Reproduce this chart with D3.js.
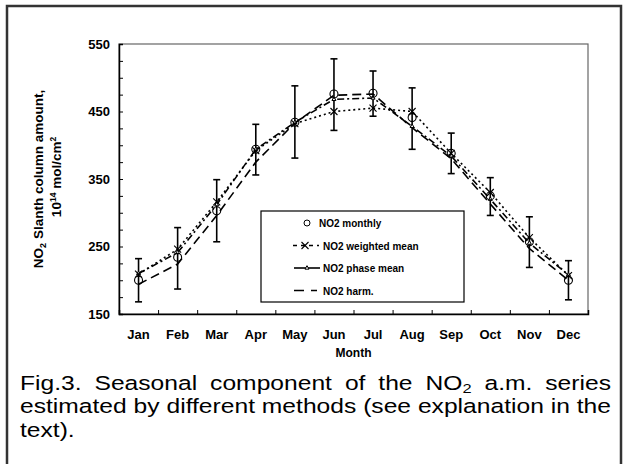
<!DOCTYPE html>
<html>
<head>
<meta charset="utf-8">
<script src="https://cdn.jsdelivr.net/npm/d3@7"></script>
<style>
  body { margin: 0; background: #fff; }
  text { font-family: "Liberation Sans", Arial, sans-serif; }
</style>
</head>
<body>
<div id="chart-area"></div>
<script>
// data
const months = ["Jan", "Feb", "Mar", "Apr", "May", "Jun", "Jul", "Aug", "Sep", "Oct", "Nov", "Dec"];
const monthly = [200, 234, 303, 394, 434, 476, 477, 441, 388, 325, 257, 200];
const errHigh = [232, 278, 349, 431, 488, 528, 510, 485, 418, 352, 294, 229];
const errLow = [168, 187, 257, 356, 381, 422, 443, 394, 358, 296, 219, 171];
const weighted = [209, 246, 316, 392, 432, 450, 455, 450, 388, 330, 263, 207];
const phase = [210, 241, 312, 394, 434, 468, 470, 428, 384, 320, 255, 208];
const harm = [194, 224, 296, 375, 433, 474, 476, 426, 380, 313, 247, 200];
const yTicks = [150, 250, 350, 450, 550];
const legendLabels = ["NO2 monthly", "NO2 weighted mean", "NO2 phase mean", "NO2 harm."];

let W = 628, H = 464;
let margin = {left: 119, right: 40, top: 44, bottom: 150};
let width = W - margin.left - margin.right;   // 469
let height = H - margin.top - margin.bottom;  // 270

let svg = d3.select("#chart-area")
            .append("svg")
            .attr("width", W)
            .attr("height", H);

// outer frame
svg.append("rect")
    .attr("x", 7).attr("y", 6)
    .attr("width", 614).attr("height", 470)
    .attr("fill", "none")
    .attr("stroke", "#333")
    .attr("stroke-width", 2.5);

let g = svg.append("g")
            .attr("transform", "translate(" + margin.left + "," + margin.top + ")");

let x = d3.scaleBand()
        .domain(months)
        .range([0, width]);
let xc = d => x(d) + x.bandwidth() / 2;
let xb = d3.scaleLinear().domain([0, 12]).range([0, width]);

let y = d3.scaleLinear()
        .domain([150, 550])
        .range([height, 0]);

// plot box
g.append("rect")
    .attr("width", width).attr("height", height)
    .attr("fill", "none")
    .attr("stroke", "#666")
    .attr("stroke-width", 1.2);

// y axis
let yAxis = d3.axisLeft(y)
            .tickValues(d3.range(150, 551, 25))
            .tickSize(-4)
            .tickPadding(9)
            .tickFormat(d => yTicks.includes(d) ? d : "");
let ya = g.append("g").attr("class", "y axis").call(yAxis);
ya.select(".domain").attr("stroke-width", 1.5);
ya.selectAll("text").attr("font-size", "13px").attr("font-weight", "bold").attr("fill", "#000");

// x axis: ticks at month boundaries, labels at centres
let xTickAxis = d3.axisBottom(xb).tickValues(d3.range(1, 12)).tickSize(-4).tickFormat("");
let xa = g.append("g").attr("transform", "translate(0," + height + ")").call(xTickAxis);
xa.select(".domain").attr("stroke-width", 1.5);

let xLab = g.append("g").attr("transform", "translate(0," + height + ")")
            .call(d3.axisBottom(x).tickSize(0).tickPadding(16));
xLab.select(".domain").remove();
xLab.selectAll("text").attr("font-size", "13px").attr("font-weight", "bold").attr("fill", "#000");

// x label
g.append("text")
    .text("Month")
    .attr("x", width / 2)
    .attr("y", height + 43)
    .attr("text-anchor", "middle")
    .attr("font-size", "12px")
    .attr("font-weight", "bold");

// y label (two lines)
let yl = svg.append("text")
    .attr("transform", "translate(43,179) rotate(-90)")
    .attr("text-anchor", "middle")
    .attr("font-size", "13.5px")
    .attr("font-weight", "bold");
yl.append("tspan").text("NO");
yl.append("tspan").text("2").attr("font-size", "9px").attr("dy", 3);
yl.append("tspan").text(" Slanth column amount,").attr("dy", -3);

let yl2 = svg.append("text")
    .attr("transform", "translate(61,177) rotate(-90)")
    .attr("text-anchor", "middle")
    .attr("font-size", "13.5px")
    .attr("font-weight", "bold");
yl2.append("tspan").text("10");
yl2.append("tspan").text("14").attr("font-size", "8.5px").attr("dy", -5);
yl2.append("tspan").text(" mol/cm").attr("dy", 5);
yl2.append("tspan").text("2").attr("font-size", "8.5px").attr("dy", -5);

// lines
let mkLine = vals => d3.line()
    .x((d, i) => xc(months[i]))
    .y(d => y(d))(vals);

g.append("path").attr("d", mkLine(harm))
    .attr("fill", "none").attr("stroke", "#000").attr("stroke-width", 1.6)
    .attr("stroke-dasharray", "9,5");
g.append("path").attr("d", mkLine(phase))
    .attr("fill", "none").attr("stroke", "#000").attr("stroke-width", 1.6)
    .attr("stroke-dasharray", "7,3,2,3");
g.append("path").attr("d", mkLine(weighted))
    .attr("fill", "none").attr("stroke", "#000").attr("stroke-width", 1.6)
    .attr("stroke-dasharray", "2,3");

// error bars
let eb = g.selectAll(".err").data(months).enter().append("g").attr("class", "err");
eb.append("line")
    .attr("x1", d => xc(d)).attr("x2", d => xc(d))
    .attr("y1", (d, i) => y(errHigh[i])).attr("y2", (d, i) => y(errLow[i]))
    .attr("stroke", "#000").attr("stroke-width", 1.6);
eb.append("line")
    .attr("x1", d => xc(d) - 3.5).attr("x2", d => xc(d) + 3.5)
    .attr("y1", (d, i) => y(errHigh[i])).attr("y2", (d, i) => y(errHigh[i]))
    .attr("stroke", "#000").attr("stroke-width", 1.6);
eb.append("line")
    .attr("x1", d => xc(d) - 3.5).attr("x2", d => xc(d) + 3.5)
    .attr("y1", (d, i) => y(errLow[i])).attr("y2", (d, i) => y(errLow[i]))
    .attr("stroke", "#000").attr("stroke-width", 1.6);

// markers
let triangle = d3.symbol().type(d3.symbolTriangle).size(7);
g.selectAll(".tri").data(phase).enter().append("path")
    .attr("d", triangle)
    .attr("transform", (d, i) => "translate(" + xc(months[i]) + "," + y(d) + ")")
    .attr("fill", "#fff").attr("stroke", "#000").attr("stroke-width", 1);

let times = (sel, px, py) => {
    sel.append("line").attr("x1", px - 3.5).attr("x2", px + 3.5).attr("y1", py - 3.5).attr("y2", py + 3.5)
        .attr("stroke", "#000").attr("stroke-width", 1.1);
    sel.append("line").attr("x1", px - 3.5).attr("x2", px + 3.5).attr("y1", py + 3.5).attr("y2", py - 3.5)
        .attr("stroke", "#000").attr("stroke-width", 1.1);
};
weighted.forEach((d, i) => times(g, xc(months[i]), y(d)));

g.selectAll(".circ").data(monthly).enter().append("circle")
    .attr("cx", (d, i) => xc(months[i]))
    .attr("cy", d => y(d))
    .attr("r", 4)
    .attr("fill", "none").attr("stroke", "#000").attr("stroke-width", 1.1);

// legend
let lg = svg.append("g").attr("transform", "translate(261,211)");
lg.append("rect").attr("width", 203).attr("height", 91)
    .attr("fill", "#fff").attr("stroke", "#000").attr("stroke-width", 1.2);
let rowY = i => 12 + i * 22.5;
legendLabels.forEach((t, i) => {
    lg.append("text").text(t)
        .attr("x", i === 0 ? 58 : 62)
        .attr("y", rowY(i) + 4)
        .attr("font-size", "10px")
        .attr("font-weight", "bold");
});
// monthly symbol
lg.append("circle").attr("cx", 46).attr("cy", rowY(0)).attr("r", 3)
    .attr("fill", "none").attr("stroke", "#000").attr("stroke-width", 1);
// weighted
lg.append("line").attr("x1", 32).attr("x2", 58).attr("y1", rowY(1)).attr("y2", rowY(1))
    .attr("stroke", "#000").attr("stroke-width", 1.6).attr("stroke-dasharray", "4,4");
times(lg, 44, rowY(1));
// phase
lg.append("line").attr("x1", 33).attr("x2", 59).attr("y1", rowY(2)).attr("y2", rowY(2))
    .attr("stroke", "#000").attr("stroke-width", 1.6);
lg.append("path").attr("d", triangle)
    .attr("transform", "translate(46," + rowY(2) + ")")
    .attr("fill", "#fff").attr("stroke", "#000").attr("stroke-width", 1);
// harm
lg.append("line").attr("x1", 33).attr("x2", 56).attr("y1", rowY(3)).attr("y2", rowY(3))
    .attr("stroke", "#000").attr("stroke-width", 1.6).attr("stroke-dasharray", "10,7");

// caption: the source text is horizontally stretched and justified
let capLines = [
    [["Fig.3."], ["Seasonal"], ["component"], ["of"], ["the"], ["NO", "2"], ["a.m."], ["series"]],
    [["estimated"], ["by"], ["different"], ["methods"], ["(see"], ["explanation"], ["in"], ["the"]],
    [["text)."]]
];
let capLeft = 20, capRight = 611, capSize = 19.5;
let cap = svg.append("g");
let capEls = capLines.map((words, li) => words.map(w => {
    let t = cap.append("text").attr("y", 390 + li * 23.5).attr("font-size", capSize + "px").attr("fill", "#000");
    t.append("tspan").text(w[0]);
    if (w[1]) t.append("tspan").text(w[1]).attr("font-size", "13px").attr("dy", 3);
    return t;
}));
let space = capSize * 0.278;
let capW = capEls.map(els => els.map(t => t.node().getComputedTextLength()));
let natural = d3.sum(capW[1]) + space * (capW[1].length - 1);
let sx = (capRight - capLeft) / natural;
cap.attr("transform", "translate(" + capLeft + ",0) scale(" + sx + ",1)");
capEls.forEach((els, li) => {
    let ws = capW[li];
    let gap = (li < capEls.length - 1 && els.length > 1)
        ? ((capRight - capLeft) / sx - d3.sum(ws)) / (els.length - 1)
        : space;
    let cx = 0;
    els.forEach((t, i) => { t.attr("x", cx); cx += ws[i] + gap; });
});
</script>
</body>
</html>
